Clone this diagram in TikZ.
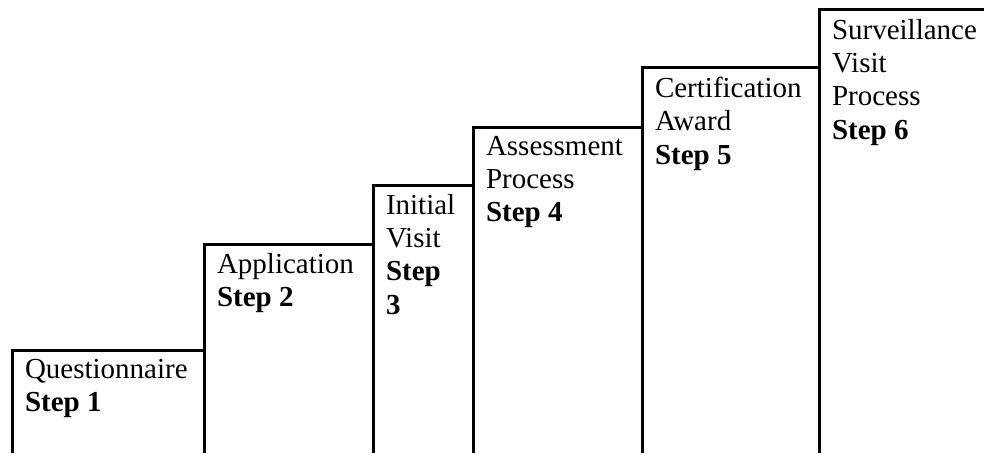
\documentclass[tikz,border=0pt]{standalone}
\usepackage{fontspec}
\setmainfont{Liberation Serif}
\usetikzlibrary{calc}

\begin{document}
\begin{tikzpicture}[x=0.75pt,y=-0.75pt,
stair/.style={line width=2.25pt},
txt/.style={anchor=north west, align=left, inner sep=0pt, outer sep=0pt,
            font=\fontsize{21.75}{25}\selectfont}]
%
\useasboundingbox (0,0) rectangle (984,453);

% corners of the steps (left edge, top edge)
\coordinate (c1) at (12,350);
\coordinate (c2) at (204,244);
\coordinate (c3) at (373,185);
\coordinate (c4) at (473,127);
\coordinate (c5) at (642,68);
\coordinate (c6) at (819,10);
\coordinate (end) at (984,10);
\coordinate (floor) at (0,453);

\draw[stair] (c1 |- floor) -- (c1) -| (c2) -| (c3) -| (c4) -| (c5) -| (c6) -- (end);
\foreach \i in {2,...,6}
  \draw[stair] (c\i) -- (c\i |- floor);

\node[txt] (s1) at ($(c1)+(13,9)$) {Questionnaire\\\textbf{Step 1}};
\node[txt] (s2) at ($(c2)+(13,9)$) {Application\\\textbf{Step 2}};
\node[txt] (s3) at ($(c3)+(13,9)$) {Initial\\Visit\\\textbf{Step}\\\textbf{3}};
\node[txt] (s4) at ($(c4)+(13,9)$) {Assessment\\Process\\\textbf{Step 4}};
\node[txt] (s5) at ($(c5)+(13,9)$) {Certification\\Award\\\textbf{Step 5}};
\node[txt] (s6) at ($(c6)+(13,9)$) {Surveillance\\Visit\\Process\\\textbf{Step 6}};

\end{tikzpicture}
\end{document}
